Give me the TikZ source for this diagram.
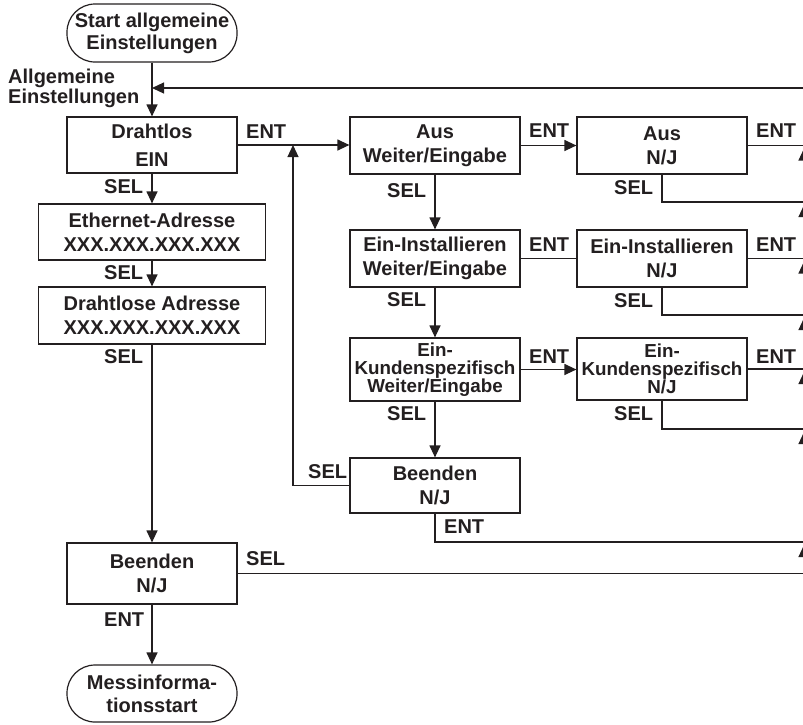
\documentclass[tikz,border=0pt]{standalone}
\usepackage{fontspec}
\setmainfont{Liberation Sans}
\usetikzlibrary{arrows.meta}
\definecolor{ink}{HTML}{231F20}
\begin{document}
\begin{tikzpicture}[x=1pt,y=-1pt,
  every node/.style={font=\bfseries\fontsize{20}{24}\selectfont, text=ink, inner sep=0pt},
  box/.style={draw=ink, line width=1.2pt, rectangle, align=center, minimum width=170pt, minimum height=57pt},
  wide/.style={box, minimum width=227pt, minimum height=56pt},
  term/.style={box, rounded corners=28pt, minimum height=58pt},
  small/.style={font=\bfseries\fontsize{18.8}{18}\selectfont},
  lbl/.style={anchor=base west},
  wire/.style={draw=ink, line width=1.2pt},
  arr/.style={wire, -{Triangle[length=12pt,width=11pt]}},
]
\useasboundingbox (0,0) rectangle (803,724);

% left column
\node[term, font=\bfseries\fontsize{20}{22}\selectfont] (start) at (152,33) {Start allgemeine\\Einstellungen};
\node[box, minimum height=56pt, font=\bfseries\fontsize{20}{28}\selectfont] (drahtlos) at (152,145) {Drahtlos\\EIN};
\node[wide] (ether) at (152,232) {Ethernet-Adresse\\XXX.XXX.XXX.XXX};
\node[wide, minimum height=57pt] (dadr) at (152,315.5) {Drahtlose Adresse\\XXX.XXX.XXX.XXX};
\node[box, minimum height=61pt] (beendenL) at (152,573.5) {Beenden\\N/J};
\node[term, minimum height=57pt, font=\bfseries\fontsize{20}{23}\selectfont] (mess) at (152,693.5) {Messinforma-\\tionsstart};

% middle column
\node[box] (aus) at (435,145.5) {Aus\\Weiter/Eingabe};
\node[box] (einst) at (435,258.5) {Ein-Installieren\\Weiter/Eingabe};
\node[box, small, minimum height=63pt] (ekund) at (435,369.5) {Ein-\\Kundenspezifisch\\Weiter/Eingabe};
\node[box, minimum height=55pt] (beendenM) at (435,485.5) {Beenden\\N/J};

% right column
\node[box] (ausNJ) at (662,145.5) {Aus\\N/J};
\node[box] (einstNJ) at (662,258.5) {Ein-Installieren\\N/J};
\node[box, small, minimum height=62pt] (ekundNJ) at (662,369) {Ein-\\Kundenspezifisch\\N/J};

% rail coordinates
\coordinate (r0) at (804,88);
\coordinate (r1) at (804,145.5);
\coordinate (r2) at (804,202);
\coordinate (r3) at (804,258.5);
\coordinate (r4) at (804,315);
\coordinate (r5) at (804,369);
\coordinate (r6) at (804,429);
\coordinate (r7) at (804,542);
\coordinate (r8) at (804,573.5);
\coordinate (j) at (293,145);

% left column connectors
\draw[arr] (start.south) -- (drahtlos.north);
\draw[arr] (r0) -- (r0 -| drahtlos.north);
\draw[arr] (drahtlos.south) -- (ether.north);
\draw[arr] (ether.south) -- (dadr.north);
\draw[arr] (dadr.south) -- (beendenL.north);
\draw[arr] (beendenL.south) -- (mess.north);
\draw[wire] (beendenL.east) -- (r8);

% to middle column
\draw[arr] (drahtlos.east) -- (drahtlos.east -| aus.west);
\draw[arr] (beendenM.west) -| (j);
\draw[arr] (aus.south) -- (einst.north);
\draw[arr] (einst.south) -- (ekund.north);
\draw[arr] (ekund.south) -- (beendenM.north);
\draw[wire] (beendenM.south) |- (r7);

% to right column
\draw[arr] (aus.east) -- (ausNJ.west);
\draw[wire] (einst.east) -- (einstNJ.west);
\draw[arr] (ekund.east) -- (ekund.east -| ekundNJ.west);
\draw[wire] (ausNJ.east) -- (r1);
\draw[wire] (einstNJ.east) -- (r3);
\draw[wire] (ekundNJ.east) -- (r5);
\draw[wire] (ausNJ.south) |- (r2);
\draw[wire] (einstNJ.south) |- (r4);
\draw[wire] (ekundNJ.south) |- (r6);

% rail
\draw[wire] (r8) -- (r0);
\foreach \a/\b in {r8/r7, r7/r6, r6/r5, r5/r4, r4/r3, r3/r2, r2/r1}
  \draw[arr, shorten >=3pt] (\a) -- (\b);

% labels
\node[anchor=north west, align=left, font=\bfseries\fontsize{20}{20}\selectfont] (allg) at (8,69) {Allgemeine\\Einstellungen};
\node[lbl] (l1) at (246,138) {ENT};
\node[lbl] (l2) at (104,193) {SEL};
\node[lbl] (l3) at (104,279) {SEL};
\node[lbl] (l4) at (104,363) {SEL};
\node[lbl] (l5) at (246,565) {SEL};
\node[lbl] (l6) at (104,626) {ENT};
\node[lbl] (l7) at (529,137) {ENT};
\node[lbl] (l8) at (387,197) {SEL};
\node[lbl] (l9) at (529,251) {ENT};
\node[lbl] (l10) at (387,306) {SEL};
\node[lbl] (l11) at (529,363) {ENT};
\node[lbl] (l12) at (387,420) {SEL};
\node[lbl] (l13) at (308,478) {SEL};
\node[lbl] (l14) at (444,533) {ENT};
\node[lbl] (l15) at (756,137) {ENT};
\node[lbl] (l16) at (756,251) {ENT};
\node[lbl] (l17) at (756,363) {ENT};
\node[lbl] (l18) at (614,194) {SEL};
\node[lbl] (l19) at (614,307) {SEL};
\node[lbl] (l20) at (614,420) {SEL};
\end{tikzpicture}
\end{document}
